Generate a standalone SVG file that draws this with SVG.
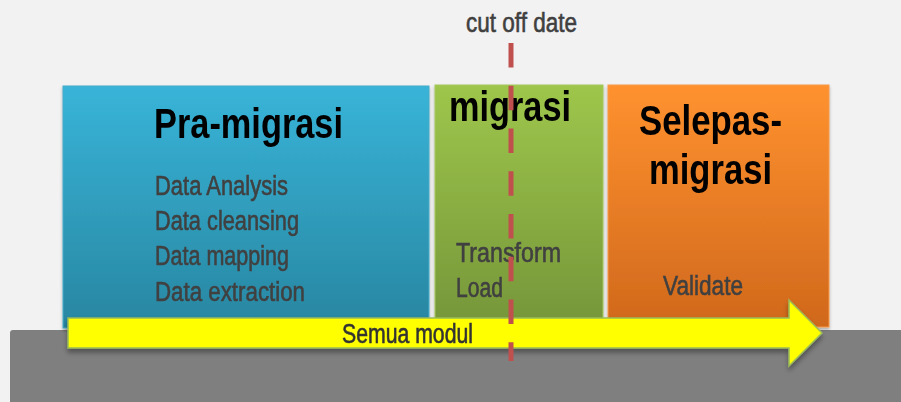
<svg xmlns="http://www.w3.org/2000/svg" width="901" height="402" viewBox="0 0 901 402">
  <defs>
    <linearGradient id="gBlue" x1="0" y1="0" x2="0" y2="1">
      <stop offset="0" stop-color="#38b4d8"/>
      <stop offset="1" stop-color="#2886a1"/>
    </linearGradient>
    <linearGradient id="gGreen" x1="0" y1="0" x2="0" y2="1">
      <stop offset="0" stop-color="#9ec64b"/>
      <stop offset="1" stop-color="#76973a"/>
    </linearGradient>
    <linearGradient id="gOrange" x1="0" y1="0" x2="0" y2="1">
      <stop offset="0" stop-color="#ff922f"/>
      <stop offset="1" stop-color="#d0681c"/>
    </linearGradient>
    <filter id="shadow" x="-5%" y="-10%" width="110%" height="130%">
      <feDropShadow dx="0" dy="2" stdDeviation="1.5" flood-color="#000" flood-opacity="0.3"/>
    </filter>
    <filter id="arrowShadow" x="-5%" y="-20%" width="110%" height="160%">
      <feDropShadow dx="0" dy="4" stdDeviation="2.5" flood-color="#000" flood-opacity="0.35"/>
    </filter>
  </defs>
  <style>
    .title { font-family: "Liberation Sans", Arial, sans-serif; font-weight: bold; font-size: 42px; fill: #000; }
    .item { font-family: "Liberation Sans", Arial, sans-serif; font-size: 27px; fill: #404040; stroke: #404040; stroke-width: 0.6px; }
    .cut { stroke: #c0504d; stroke-width: 5; stroke-dasharray: 24.5 18.25; fill: none; }
  </style>

  <!-- page background and base platform -->
  <rect x="0" y="0" width="901" height="402" fill="#f2f2f2"/>
  <rect x="10" y="330" width="900" height="80" rx="3" fill="#7f7f7f"/>

  <!-- phase: pre-migration -->
  <g id="pra-migrasi" filter="url(#shadow)">
    <rect x="63" y="86" width="366" height="242" fill="url(#gBlue)" stroke="#46acc9" stroke-width="1"/>
    <text class="title" x="154" y="138" textLength="189" lengthAdjust="spacingAndGlyphs">Pra-migrasi</text>
    <text class="item" x="155" y="195" textLength="133" lengthAdjust="spacingAndGlyphs">Data Analysis</text>
    <text class="item" x="155" y="230" textLength="144" lengthAdjust="spacingAndGlyphs">Data cleansing</text>
    <text class="item" x="155" y="265" textLength="134" lengthAdjust="spacingAndGlyphs">Data mapping</text>
    <text class="item" x="155" y="301" textLength="150" lengthAdjust="spacingAndGlyphs">Data extraction</text>
  </g>

  <!-- phase: migration -->
  <g id="migrasi" filter="url(#shadow)">
    <rect x="435" y="85" width="168" height="236" fill="url(#gGreen)" stroke="#a5c85f" stroke-width="1"/>
    <text class="title" x="449" y="121" textLength="122" lengthAdjust="spacingAndGlyphs">migrasi</text>
    <text class="item" x="456" y="262" textLength="105" lengthAdjust="spacingAndGlyphs">Transform</text>
    <text class="item" x="456" y="297" textLength="47" lengthAdjust="spacingAndGlyphs">Load</text>
  </g>

  <!-- phase: post-migration -->
  <g id="selepas-migrasi" filter="url(#shadow)">
    <rect x="608" y="85" width="221" height="242" fill="url(#gOrange)" stroke="#f7994a" stroke-width="1"/>
    <text class="title" x="639" y="135" textLength="143" lengthAdjust="spacingAndGlyphs">Selepas-</text>
    <text class="title" x="649" y="184" textLength="123" lengthAdjust="spacingAndGlyphs">migrasi</text>
    <text class="item" x="663" y="295" textLength="80" lengthAdjust="spacingAndGlyphs">Validate</text>
  </g>

  <!-- connectors: module arrow and cut-off marker -->
  <g id="connectors">
    <g id="semua-modul" filter="url(#arrowShadow)">
      <polygon points="68,318 789,318 789,300 822,333 789,366 789,348 68,348" fill="#ffff00" stroke="#9bbb59" stroke-width="1.5" stroke-linejoin="miter"/>
      <text class="item" x="342" y="343" textLength="131" lengthAdjust="spacingAndGlyphs" style="fill:#333;stroke:#333">Semua modul</text>
    </g>
    <line class="cut" x1="511" y1="43" x2="511" y2="361"/>
    <text id="cut-off-label" class="item" x="466" y="32" textLength="111" lengthAdjust="spacingAndGlyphs">cut off date</text>
  </g>
</svg>
